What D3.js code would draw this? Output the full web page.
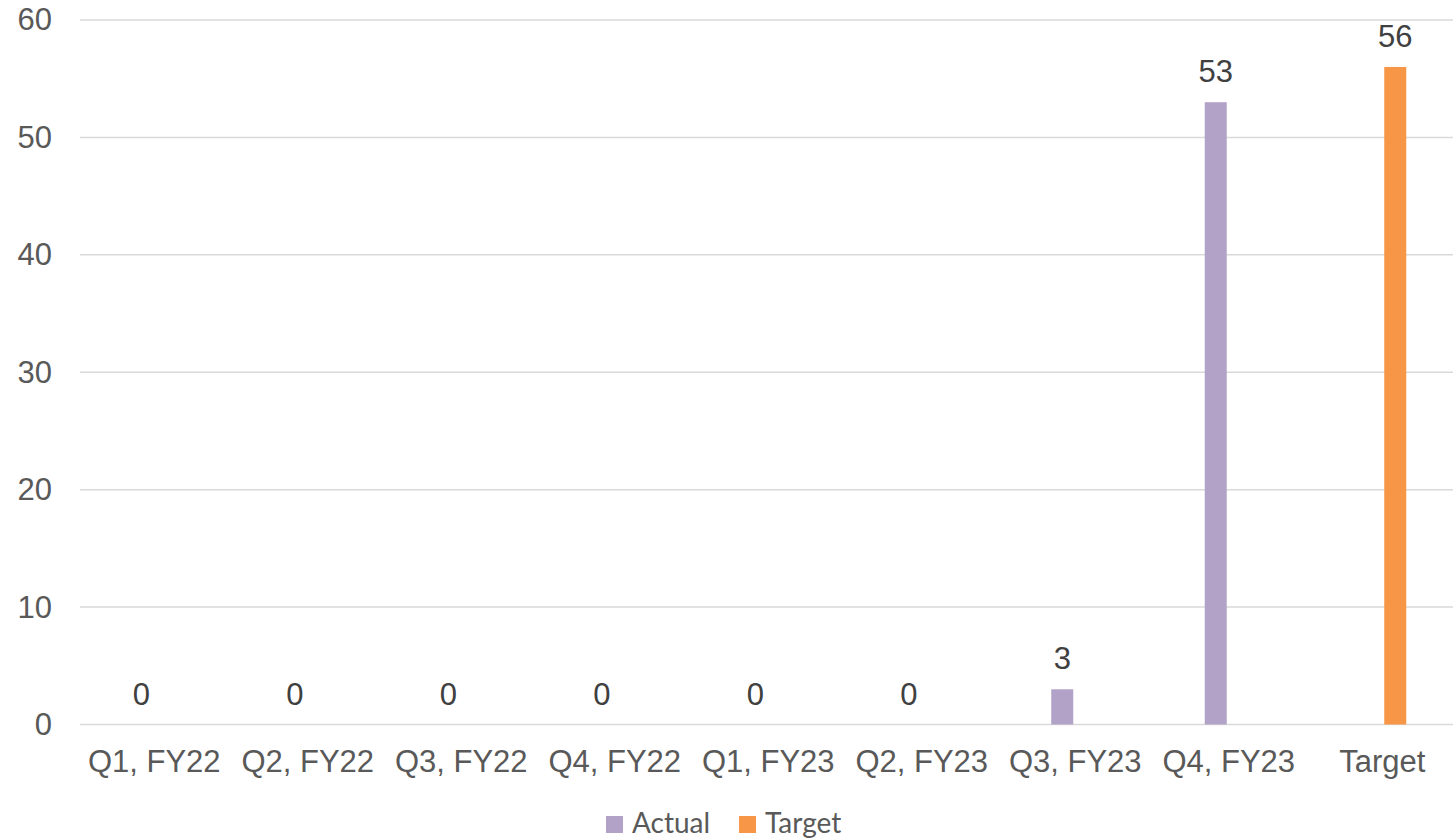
<!DOCTYPE html>
<html>
<head>
<meta charset="utf-8">
<title>Actual vs Target</title>
<script src="https://cdn.jsdelivr.net/npm/d3@7"></script>
<style>
  body { margin: 0; background: #fff; }
  svg { display: block; }
</style>
</head>
<body>
<div class="d3-viz"></div>
<script>
  // data
  var categories = ["Q1, FY22", "Q2, FY22", "Q3, FY22", "Q4, FY22", "Q1, FY23", "Q2, FY23", "Q3, FY23", "Q4, FY23", "Target"];
  var series = ["Actual", "Target"];
  var actual = [0, 0, 0, 0, 0, 0, 3, 53, null];
  var target = [null, null, null, null, null, null, null, null, 56];
  var yTicks = [0, 10, 20, 30, 40, 50, 60];
  var colors = ["#b3a2c7", "#f79646"];

  var width = 1453, height = 840;

  var svg = d3.select(".d3-viz").append("svg")
      .attr("width", width)
      .attr("height", height);

  var x = d3.scaleBand().domain(categories).range([77.5, 77.5 + 9 * 153.5]).padding(0);
  var y = d3.scaleLinear().domain([0, 60]).range([724.5, 20]);
  var x1 = d3.scaleBand().domain(series).range([x.bandwidth() / 2 - 24, x.bandwidth() / 2 + 24]).paddingInner(2 / 13);

  // gridlines
  svg.append("g").selectAll("line")
     .data(yTicks)
     .enter().append("line")
     .attr("x1", 80).attr("x2", width)
     .attr("y1", function(d){ return y(d); })
     .attr("y2", function(d){ return y(d); })
     .style("stroke", "#d9d9d9")
     .style("stroke-width", 1.5);

  // y axis labels
  var yAxis = svg.append("g")
     .attr("transform", "translate(52,0)")
     .call(d3.axisLeft(y).tickValues(yTicks).tickSize(0).tickPadding(0));
  yAxis.select(".domain").remove();
  yAxis.selectAll("text")
     .style("font-family", "'Liberation Sans', Arial, sans-serif")
     .style("font-size", "31px")
     .style("fill", "#595959");

  // x axis labels
  var xAxis = svg.append("g")
     .attr("transform", "translate(0,724.5)")
     .call(d3.axisBottom(x).tickSize(0).tickPadding(0));
  xAxis.select(".domain").remove();
  xAxis.selectAll("text")
     .attr("dy", null)
     .attr("y", 47.5)
     .style("font-family", "'Liberation Sans', Arial, sans-serif")
     .style("font-size", "31px")
     .style("fill", "#595959");

  var rows = [];
  categories.forEach(function(c, i){
    [actual[i], target[i]].forEach(function(v, j){
      if (v !== null) rows.push({cat: c, s: series[j], v: v, col: colors[j]});
    });
  });

  // bars
  svg.append("g").selectAll("rect")
     .data(rows)
     .enter().append("rect")
     .attr("x", function(d){ return x(d.cat) + x1(d.s); })
     .attr("width", x1.bandwidth())
     .attr("y", function(d){ return y(d.v); })
     .attr("height", function(d){ return y(0) - y(d.v); })
     .attr("fill", function(d){ return d.col; });

  // data labels
  svg.append("g").selectAll("text")
     .data(rows)
     .enter().append("text")
     .attr("x", function(d){ return x(d.cat) + x1(d.s) + x1.bandwidth() / 2; })
     .attr("y", function(d){ return y(d.v) - 20; })
     .attr("text-anchor", "middle")
     .style("font-family", "'Liberation Sans', Arial, sans-serif")
     .style("font-size", "31px")
     .style("fill", "#404040")
     .text(function(d){ return d.v; });

  // legend
  var legend = svg.append("g");
  var lx = [606, 739];
  series.forEach(function(s, i){
    legend.append("rect")
       .attr("x", lx[i]).attr("y", 816)
       .attr("width", 17).attr("height", 17)
       .attr("fill", colors[i]);
    legend.append("text")
       .attr("x", lx[i] + 26).attr("y", 833)
       .style("font-family", "Lato, 'Open Sans', sans-serif")
       .style("font-size", "28px")
       .style("fill", "#595959")
       .text(s);
  });
</script>
</body>
</html>
